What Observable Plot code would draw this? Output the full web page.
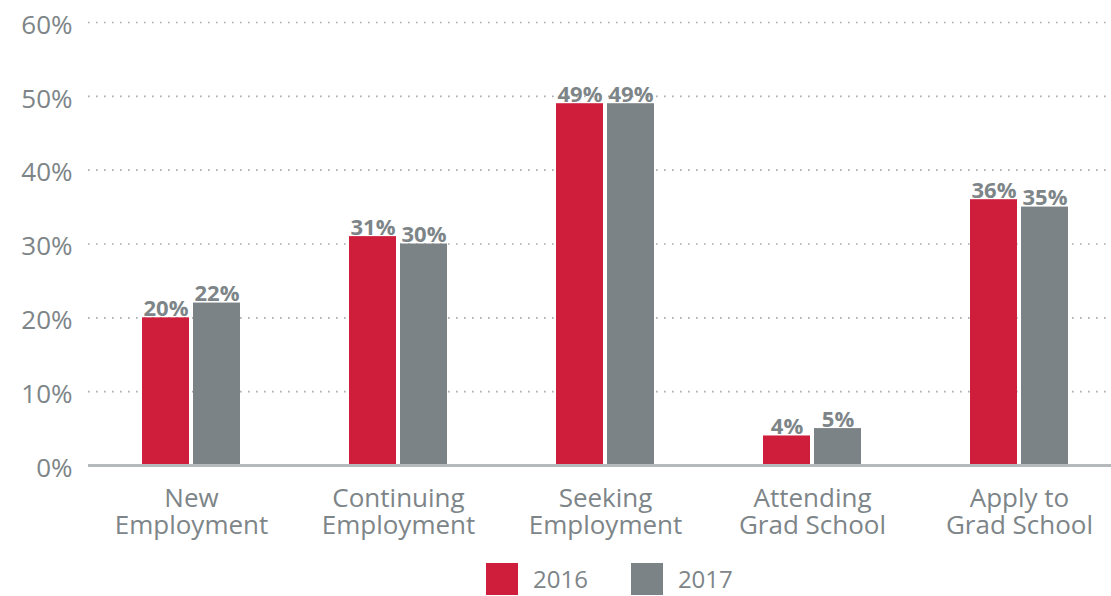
<!DOCTYPE html>
<html>
<head>
<meta charset="utf-8">
<script src="https://cdn.jsdelivr.net/npm/d3@7"></script>
<script src="https://cdn.jsdelivr.net/npm/@observablehq/plot@0.6"></script>
<style>
  body { margin: 0; background: #fff; font-family: "Open Sans", sans-serif; }
  #wrap { width: 1111px; height: 596px; position: relative; overflow: hidden; }
  #legend { display: flex; align-items: center; padding-left: 486px; margin-top: 14px; color: #7d8588; font-size: 24px; }
  .sw { width: 32px; height: 32px; margin-right: 15px; }
  .item { display: flex; align-items: center; margin-right: 43px; }
</style>
</head>
<body>
<div id="wrap">
  <div id="chart"></div>
  <div id="legend"></div>
</div>
<script>
const categories = ["New\nEmployment", "Continuing\nEmployment", "Seeking\nEmployment", "Attending\nGrad School", "Apply to\nGrad School"];
const years = ["2016", "2017"];
const values2016 = [20, 31, 49, 4, 36];
const values2017 = [22, 30, 49, 5, 35];
const yTicks = [0, 10, 20, 30, 40, 50, 60];
const colors = ["#cf1e3b", "#7c8386"];
const textColor = "#7d8588";

const d2016 = categories.map((c, i) => ({category: c, year: years[0], value: values2016[i]}));
const d2017 = categories.map((c, i) => ({category: c, year: years[1], value: values2017[i]}));

const chart = Plot.plot({
  width: 1111,
  height: 548,
  marginLeft: 88,
  marginRight: 0,
  marginTop: 22,
  marginBottom: 83,
  style: {fontFamily: "'Open Sans', sans-serif", color: textColor, background: "white", overflow: "visible"},
  x: {domain: categories, range: [87, 1122], paddingInner: 0.527, paddingOuter: 0.2633, axis: null},
  y: {domain: [0, 60], axis: null},
  color: {domain: years, range: colors},
  marks: [
    Plot.gridY(yTicks.filter(d => d > 0), {stroke: "#a6abad", strokeOpacity: 1, strokeWidth: 1.6, strokeDasharray: "1.6,6.4"}),
    Plot.axisY(yTicks, {tickSize: 0, tickPadding: 16, dy: 3, tickFormat: d => d + "%", fontSize: 26, fill: textColor, label: null}),
    Plot.axisX({tickSize: 0, tickPadding: 22, fontSize: 26, lineHeight: 1.04, fill: textColor, label: null}),
    Plot.barY(d2016, {x: "category", y: "value", fill: "year", insetRight: 51}),
    Plot.barY(d2017, {x: "category", y: "value", fill: "year", insetLeft: 51}),
    Plot.ruleY([0], {stroke: "#b4b9bb", strokeWidth: 3}),
    Plot.text(d2016, {x: "category", y: "value", text: d => d.value + "%", dx: -25.5, dy: -2, lineAnchor: "bottom", fontWeight: "bold", fontSize: 22, fill: textColor}),
    Plot.text(d2017, {x: "category", y: "value", text: d => d.value + "%", dx: 25.5, dy: -2, lineAnchor: "bottom", fontWeight: "bold", fontSize: 22, fill: textColor})
  ]
});
document.getElementById("chart").append(chart);

const legend = document.getElementById("legend");
years.forEach((y, i) => {
  const item = document.createElement("div");
  item.className = "item";
  const sw = document.createElement("div");
  sw.className = "sw";
  sw.style.background = colors[i];
  const t = document.createElement("span");
  t.textContent = y;
  item.append(sw, t);
  legend.append(item);
});
</script>
</body>
</html>
